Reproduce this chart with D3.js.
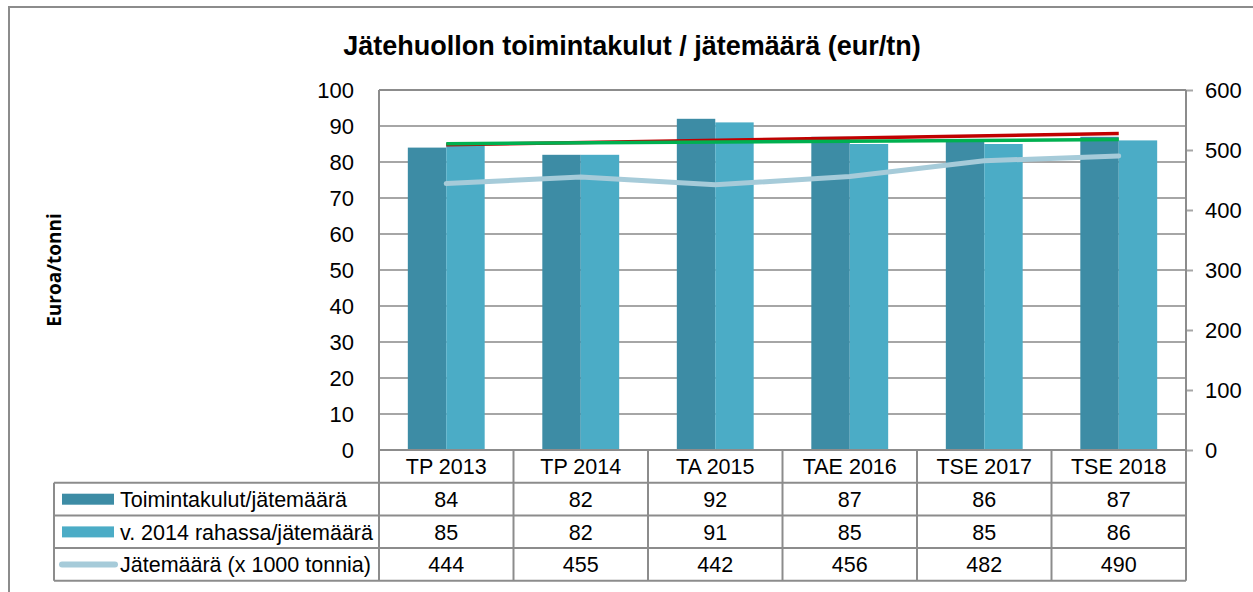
<!DOCTYPE html>
<html>
<head>
<meta charset="utf-8">
<script src="https://cdn.jsdelivr.net/npm/d3@7"></script>
<style>
body{margin:0;background:#fff;}
text{font-family:"Liberation Sans",Arial,sans-serif;fill:#000;}
</style>
</head>
<body>
<div id="chart"></div>
<script>
var categories = ["TP 2013","TP 2014","TA 2015","TAE 2016","TSE 2017","TSE 2018"];
var kulut = [84,82,92,87,86,87];
var rahassa = [85,82,91,85,85,86];
var jatemaara = [444,455,442,456,482,490];
var seriesNames = ["Toimintakulut/jätemäärä","v. 2014 rahassa/jätemäärä","Jätemäärä (x 1000 tonnia)"];
var leftTicks = [0,10,20,30,40,50,60,70,80,90,100];
var rightTicks = [0,100,200,300,400,500,600];

var W = 1253, H = 592;
var plot = {left:379, right:1186, top:90, bottom:450};
var rowH = 32.7;
var legLeft = 54;
var gridCol = "#a6a6a6";
var c1 = "#3d8ca5", c2 = "#4bacc6", c3 = "#a6cbd9";
var fs = "21.5px";

var svg = d3.select("#chart").append("svg").attr("width",W).attr("height",H);

// outer frame
svg.append("path").attr("d","M9,"+H+" V7 H"+W).attr("fill","none").attr("stroke","#8c8c8c").attr("stroke-width",2);

svg.append("text").attr("x",632).attr("y",55).attr("text-anchor","middle")
  .style("font-weight","bold").style("font-size","27px")
  .text("Jätehuollon toimintakulut / jätemäärä (eur/tn)");

svg.append("text").attr("transform","translate(61,270) rotate(-90)").attr("text-anchor","middle")
  .style("font-family","'Open Sans',sans-serif")
  .style("font-weight","bold").style("font-size","19px").text("Euroa/tonni");

var x = d3.scaleBand().domain(categories).range([plot.left,plot.right]);
var y = d3.scaleLinear().domain([0,100]).range([plot.bottom,plot.top]);
var y2 = d3.scaleLinear().domain([0,600]).range([plot.bottom,plot.top]);
var inner = d3.scaleBand().domain([0,1]).range([0,x.bandwidth()]).paddingOuter(0.75).paddingInner(0);

// gridlines
svg.append("g").selectAll("line").data(leftTicks.filter(function(d){return d>0;})).enter().append("line")
  .attr("x1",plot.left).attr("x2",plot.right).attr("y1",function(d){return y(d);}).attr("y2",function(d){return y(d);})
  .attr("stroke",gridCol).attr("stroke-width",2);

// left tick labels
svg.append("g").selectAll("text").data(leftTicks).enter().append("text")
  .attr("x",354).attr("y",function(d){return y(d)+8;}).attr("text-anchor","end")
  .style("font-size","22px").text(function(d){return d;});

// right axis
var ra = svg.append("g").attr("transform","translate("+plot.right+",0)")
  .call(d3.axisRight(y2).tickValues(rightTicks).tickSize(7).tickPadding(12));
ra.select(".domain").remove();
ra.selectAll("line").attr("stroke",gridCol).attr("stroke-width",2);
ra.selectAll("text").style("font-size","22px").attr("fill","#000").style("font-family","'Liberation Sans',Arial,sans-serif");

// bars
var bars = svg.append("g");
bars.selectAll("rect.a").data(kulut).enter().append("rect")
  .attr("x",function(d,i){return x(categories[i])+inner(0);}).attr("width",inner.bandwidth())
  .attr("y",function(d){return y(d);}).attr("height",function(d){return y(0)-y(d);}).attr("fill",c1);
bars.selectAll("rect.b").data(rahassa).enter().append("rect")
  .attr("x",function(d,i){return x(categories[i])+inner(1);}).attr("width",inner.bandwidth())
  .attr("y",function(d){return y(d);}).attr("height",function(d){return y(0)-y(d);}).attr("fill",c2);

function cx(i){return x(categories[i])+x.bandwidth()/2;}

// jatemaara line
svg.append("path").datum(jatemaara)
  .attr("d",d3.line().x(function(d,i){return cx(i);}).y(function(d){return y2(d);}))
  .attr("fill","none").attr("stroke",c3).attr("stroke-width",5).attr("stroke-linecap","round");

// linear trend lines
function trend(vals){
  var n = vals.length, mx = (n-1)/2, my = d3.mean(vals), sxy = 0, sxx = 0;
  vals.forEach(function(v,i){sxy += (i-mx)*(v-my); sxx += (i-mx)*(i-mx);});
  var b = sxy/sxx;
  return [my-b*mx, my+b*(n-1-mx)];
}
[[kulut,"#c00000"],[rahassa,"#00b050"]].forEach(function(s){
  var t = trend(s[0]);
  svg.append("line").attr("x1",cx(0)).attr("x2",cx(categories.length-1))
    .attr("y1",y(t[0])).attr("y2",y(t[1])).attr("stroke",s[1]).attr("stroke-width",3.5);
});

// data table
var rows = [0,1,2,3,4].map(function(i){return plot.bottom+i*rowH;});
var tbl = svg.append("g").attr("stroke","#8c8c8c").attr("stroke-width",2);
tbl.append("line").attr("x1",plot.left).attr("x2",plot.right).attr("y1",rows[0]).attr("y2",rows[0]);
rows.slice(1).forEach(function(r){
  tbl.append("line").attr("x1",legLeft).attr("x2",plot.right).attr("y1",r).attr("y2",r);
});
tbl.append("line").attr("x1",legLeft).attr("x2",legLeft).attr("y1",rows[1]).attr("y2",rows[4]);
tbl.append("line").attr("x1",plot.left).attr("x2",plot.left).attr("y1",plot.top).attr("y2",rows[4]);
tbl.append("line").attr("x1",plot.right).attr("x2",plot.right).attr("y1",plot.top).attr("y2",rows[4]);
categories.slice(1).forEach(function(c){
  tbl.append("line").attr("x1",x(c)).attr("x2",x(c)).attr("y1",rows[0]).attr("y2",rows[4]);
});
tbl.append("line").attr("x1",plot.left).attr("x2",plot.right).attr("y1",plot.top).attr("y2",plot.top);

svg.append("g").selectAll("text").data(categories).enter().append("text")
  .attr("x",function(d){return x(d)+x.bandwidth()/2;}).attr("y",rows[0]+rowH/2+8)
  .attr("text-anchor","middle").style("font-size",fs).text(function(d){return d;});

[kulut,rahassa,jatemaara].forEach(function(vals,r){
  svg.append("g").selectAll("text").data(vals).enter().append("text")
    .attr("x",function(d,i){return cx(i);}).attr("y",rows[r+1]+rowH/2+8)
    .attr("text-anchor","middle").style("font-size",fs).text(function(d){return d;});
  svg.append("text").attr("x",120).attr("y",rows[r+1]+rowH/2+8).style("font-size",fs).text(seriesNames[r]);
});

// legend keys
svg.append("rect").attr("x",62).attr("y",rows[1]+11).attr("width",52).attr("height",11).attr("fill",c1);
svg.append("rect").attr("x",62).attr("y",rows[2]+11).attr("width",52).attr("height",11).attr("fill",c2);
svg.append("line").attr("x1",62).attr("x2",115).attr("y1",rows[3]+rowH/2).attr("y2",rows[3]+rowH/2)
  .attr("stroke",c3).attr("stroke-width",6).attr("stroke-linecap","round");
</script>
</body>
</html>
